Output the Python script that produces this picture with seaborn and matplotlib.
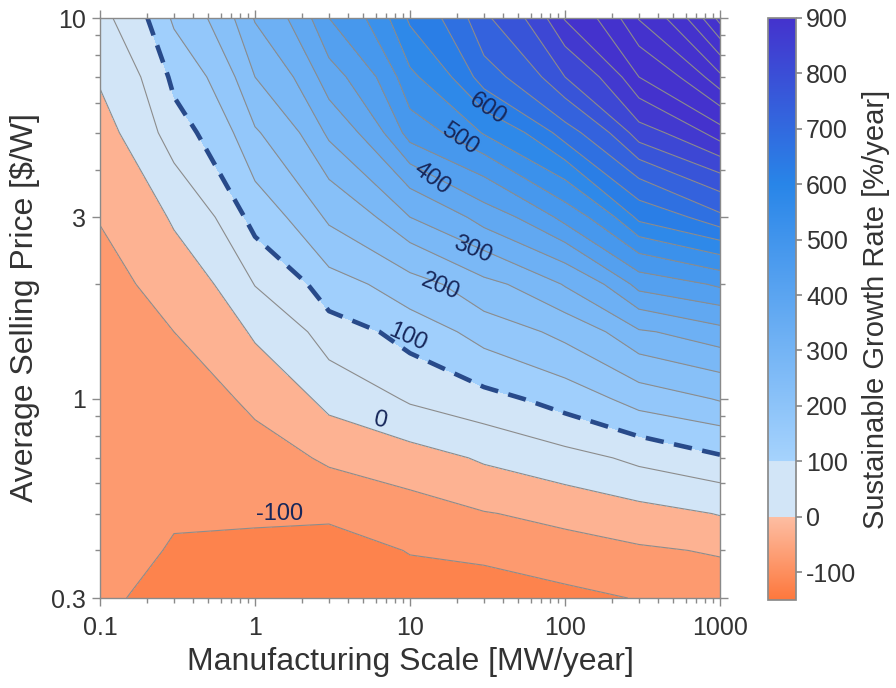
import numpy as np
import matplotlib
matplotlib.use("Agg")
import matplotlib.pyplot as plt
import seaborn as sns
from matplotlib.colors import LinearSegmentedColormap, Normalize
from matplotlib.cm import ScalarMappable
from matplotlib.ticker import FixedLocator, FixedFormatter, LogLocator, NullFormatter

# manufacturing scale [MW/year] (columns) and average selling price [$/W] (rows)
scale_mw = [0.1, 0.3, 1, 3, 10, 30, 100, 300, 1000]
price = [0.3, 0.4, 0.5, 0.7, 1, 1.5, 2, 3, 5, 7, 10]

# sustainable growth rate [%/year], one row per price
growth = [
    [-93, -122, -118, -135, -125, -123, -110, -97, -88],
    [-90, -103, -107, -118, -97, -88, -72, -56, -43],
    [-87, -96, -95, -92, -70, -52, -32, -15, 3],
    [-83, -87, -70, -40, -18, 8, 35, 64, 95],
    [-78, -73, -37, 18, 58, 87, 125, 175, 205],
    [-70, -50, 9, 78, 124, 175, 218, 295, 335],
    [-62, -28, 52, 133, 183, 238, 305, 420, 460],
    [-48, 8, 124, 211, 300, 375, 470, 615, 690],
    [-16, 80, 195, 312, 475, 555, 680, 830, 930],
    [5, 113, 250, 380, 540, 680, 800, 950, 1090],
    [37, 160, 305, 450, 611, 742, 905, 1054, 1270],
]

levels = list(range(-150, 1301, 50))
cbar_ticks = list(range(-100, 901, 100))
x_ticks = [0.1, 1, 10, 100, 1000]
x_ticklabels = ["0.1", "1", "10", "100", "1000"]
y_ticks = [0.3, 1, 3, 10]
y_ticklabels = ["0.3", "1", "3", "10"]

# contour labels: (text, scale, price, rotation)
contour_labels = [
    ("600", 31.8, 5.75, -34),
    ("500", 21.0, 4.80, -34),
    ("400", 13.9, 3.78, -36),
    ("300", 25.3, 2.47, -22),
    ("200", 15.8, 1.97, -22),
    ("100", 9.7, 1.45, -24),
    ("0", 6.4, 0.876, -12),
    ("-100", 1.45, 0.50, 0),
]

sns.set_theme(style="ticks")
plt.rcParams["font.family"] = ["Liberation Sans", "DejaVu Sans"]
plt.rcParams["axes.unicode_minus"] = False


def rgb(r, g, b):
    return (r / 255, g / 255, b / 255)


vmin, vmax = -150, 900
span = vmax - vmin
cmap = LinearSegmentedColormap.from_list(
    "growth",
    [
        (0.0, rgb(253, 119, 60)),
        ((0 - vmin) / span - 0.0002, rgb(253, 190, 163)),
        ((0 - vmin) / span + 0.0002, rgb(210, 229, 247)),
        ((100 - vmin) / span - 0.0002, rgb(210, 229, 247)),
        ((100 - vmin) / span + 0.0002, rgb(166, 211, 253)),
        ((600 - vmin) / span, rgb(40, 133, 232)),
        (1.0, rgb(68, 50, 205)),
    ],
    N=2048,
)
cmap.set_over(rgb(68, 50, 205))
norm = Normalize(vmin=vmin, vmax=vmax)

X, Y = np.meshgrid(scale_mw, price)
Z = np.array(growth, dtype=float)

fig = plt.figure(figsize=(8.96, 6.88), dpi=100)
ax = fig.add_axes([0.1116, 0.1308, 0.692, 0.843])

ax.contourf(X, Y, Z, levels=levels, cmap=cmap, norm=norm)
ax.contour(X, Y, Z, levels=[l for l in levels if l != 100],
           colors="#8c8c8c", linewidths=0.8, linestyles="solid",
           negative_linestyles="solid")
dash = ax.contour(X, Y, Z, levels=[100], colors="#284a8a", linewidths=3.3)
dash.set_linestyle((0, (4, 2.3)))

ax.set_xscale("log")
ax.set_yscale("log")
ax.set_xlim(0.1, 1000)
ax.set_ylim(0.3, 10)

ax.xaxis.set_major_locator(FixedLocator(x_ticks))
ax.xaxis.set_major_formatter(FixedFormatter(x_ticklabels))
ax.xaxis.set_minor_locator(LogLocator(base=10, subs=range(2, 10)))
ax.xaxis.set_minor_formatter(NullFormatter())
ax.yaxis.set_major_locator(FixedLocator(y_ticks))
ax.yaxis.set_major_formatter(FixedFormatter(y_ticklabels))
ax.yaxis.set_minor_locator(LogLocator(base=10, subs=range(2, 10)))
ax.yaxis.set_minor_formatter(NullFormatter())

ax.tick_params(which="both", direction="out", top=True, right=True,
               color="#8a8a8a", width=1, labelsize=18, labelcolor="#333333")
ax.tick_params(which="major", length=6, pad=4)
ax.tick_params(axis="x", which="major", pad=7)
ax.tick_params(which="minor", length=3.5)
for sp in ax.spines.values():
    sp.set_color("#8a8a8a")
    sp.set_linewidth(1)

ax.set_xlabel("Manufacturing Scale [MW/year]", fontsize=23, color="#333333", labelpad=5)
ax.set_ylabel("Average Selling Price [$/W]", fontsize=23, color="#333333", labelpad=8)

for txt, sx, py, rot in contour_labels:
    ax.text(sx, py, txt, fontsize=17, color="#17275a", rotation=rot,
            ha="center", va="center", rotation_mode="anchor")

cax = fig.add_axes([0.857, 0.128, 0.031, 0.846])
sm = ScalarMappable(norm=norm, cmap=cmap)
cb = fig.colorbar(sm, cax=cax, ticks=cbar_ticks)
cb.outline.set_edgecolor("#8a8a8a")
cb.ax.tick_params(labelsize=18, labelcolor="#333333", color="#8a8a8a", length=4)
cb.set_label("Sustainable Growth Rate [%/year]", fontsize=21, color="#333333", labelpad=4)

fig.savefig("out.png", dpi=100)
